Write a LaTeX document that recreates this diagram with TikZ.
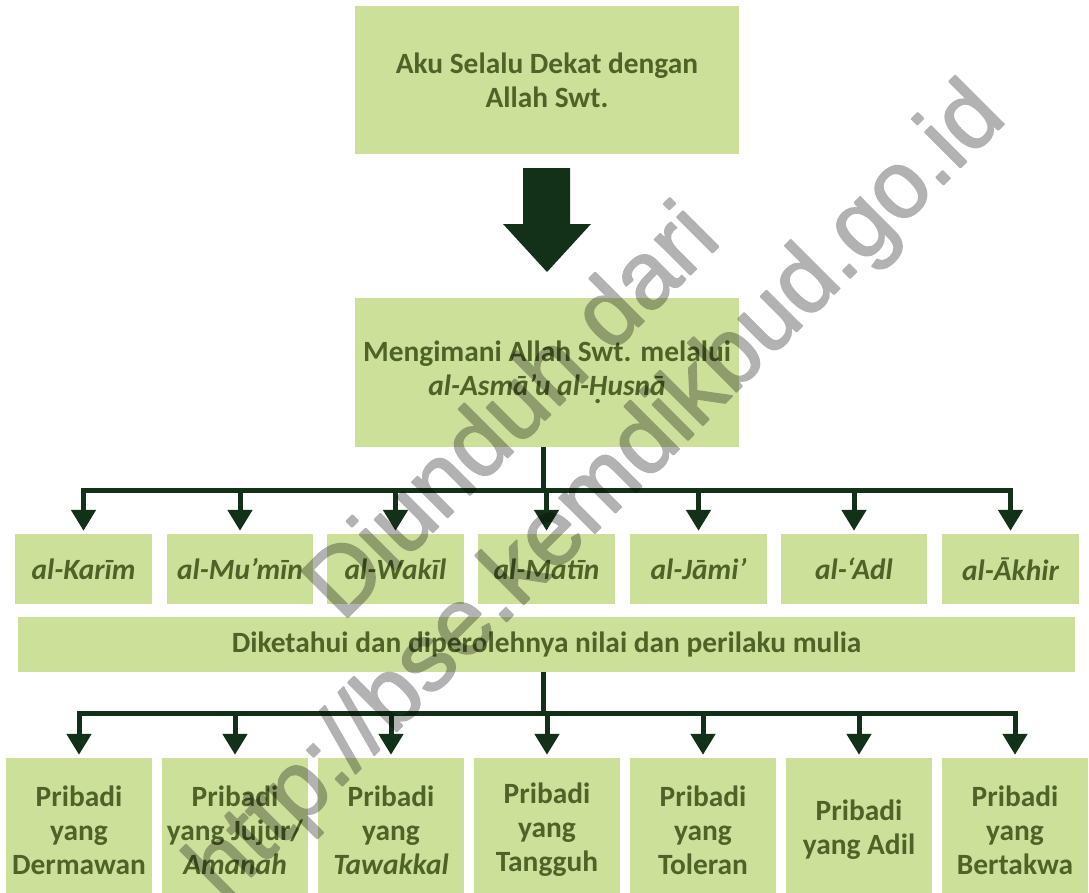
\documentclass[tikz,border=0pt]{standalone}
\usepackage{fontspec}
\setmainfont{Carlito}
\newfontfamily\wmfont{Liberation Sans}
\usetikzlibrary{arrows.meta}
\definecolor{boxgreen}{RGB}{205,224,154}
\definecolor{txtgreen}{RGB}{79,98,40}
\definecolor{arrgreen}{RGB}{19,49,25}
\newcommand{\Hdot}{{\ooalign{H\cr\hidewidth\raisebox{-0.28em}{.}\hidewidth\cr}}}
\newcommand{\heavytext}[1]{\special{pdf:literal direct 2 Tr 1.8 w 1 j}#1\special{pdf:literal direct 0 Tr}}
\tikzset{
  gbox/.style={fill=boxgreen, draw=none, inner sep=0pt, align=center,
    text=txtgreen, font=\fontsize{29.4}{34}\selectfont\bfseries},
  ibox/.style={gbox, font=\fontsize{29.4}{34}\selectfont\bfseries\itshape},
  conn/.style={draw=arrgreen, line width=5pt},
  arr/.style={conn, -{Triangle[width=24pt,length=21pt]}, shorten >=3pt},
  wm/.style={inner sep=0pt, text=black, anchor=base west, rotate=45,
    font=\wmfont\fontsize{95}{95}\selectfont}
}
\begin{document}
\begin{tikzpicture}[x=1pt,y=-1pt]
\useasboundingbox (0,0) rectangle (1089,892);
% top boxes
\node[gbox, minimum width=384pt, minimum height=148pt] (b1) at (547,80)
  {Aku Selalu Dekat dengan\\Allah Swt.};
\fill[arrgreen] (523,168) -- (570,168) -- (570,224) -- (591,224) -- (547,272)
  -- (503,224) -- (523,224) -- cycle;
\node[gbox, minimum width=384pt, minimum height=149pt] (b2) at (547,372.5)
  {Mengimani Allah Swt. melalui\\\textit{al-Asmā’u al-\Hdot usnā}};
% middle row
\foreach \n/\cx/\w/\t in {m1/83.5/137/al-Karīm, m2/240/146/al-Mu’mīn,
  m3/395.5/137/al-Wakīl, m4/546.5/137/al-Matīn, m5/698.5/137/al-Jāmi’,
  m6/854/146/al-‘Adl, m7/1010.5/137/al-Ākhir}
  \node[ibox, minimum width=\w pt, minimum height=70pt] (\n) at (\cx,569) {\t};
\node[gbox, minimum width=1057pt, minimum height=55pt] (d) at (546.5,644.5)
  {Diketahui dan diperolehnya nilai dan perilaku mulia};
% bottom row
\node[gbox, minimum width=146pt, minimum height=144pt] (p1) at (79,830)
  {Pribadi\\yang\\Dermawan};
\node[gbox, minimum width=146pt, minimum height=144pt] (p2) at (235,830)
  {Pribadi\\yang Jujur/\\\textit{Amanah}};
\node[gbox, minimum width=146pt, minimum height=144pt] (p3) at (391,830)
  {Pribadi\\yang\\\textit{Tawakkal}};
\node[gbox, minimum width=146pt, minimum height=144pt] (p4) at (547,830)
  {Pribadi\\yang\\Tangguh};
\node[gbox, minimum width=146pt, minimum height=144pt] (p5) at (703,830)
  {Pribadi\\yang\\Toleran};
\node[gbox, minimum width=146pt, minimum height=144pt] (p6) at (859,830)
  {Pribadi\\yang Adil};
\node[gbox, minimum width=146pt, minimum height=144pt] (p7) at (1015,830)
  {Pribadi\\yang\\Bertakwa};
% connectors upper
\coordinate (j1) at (543,490);
\draw[conn] (b2.south -| j1) -- (j1);
\draw[conn, line cap=rect] (j1 -| m1) -- (j1 -| m7);
\foreach \n in {m1,m2,m3,m4,m5,m6,m7}
  \draw[arr] (j1 -| \n) -- (\n.north);
% connectors lower
\coordinate (j2) at (543,713);
\draw[conn] (d.south -| j2) -- (j2);
\draw[conn, line cap=rect] (j2 -| p1) -- (j2 -| p7);
\foreach \n in {p1,p2,p3,p4,p5,p6,p7}
  \draw[arr] (j2 -| \n) -- (\n.north);
% watermark (one transparent group)
\begin{scope}[opacity=0.3]
\begin{scope}[transparency group]
\node[wm] (w1) at (342,623) {\heavytext{Diunduh dari}};
\node[wm] (w2) at (224,904) {\heavytext{http://bse.kemdikbud.go.id}};
\end{scope}
\end{scope}
\end{tikzpicture}
\end{document}
